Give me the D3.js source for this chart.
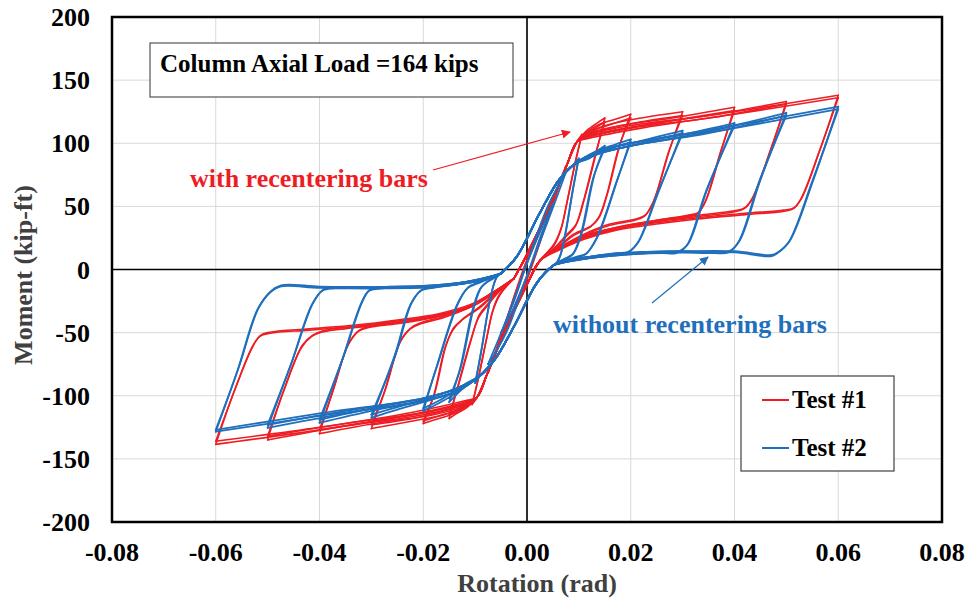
<!doctype html>
<head>
  <meta charset="utf-8">
  <script src="https://cdnjs.cloudflare.com/ajax/libs/d3/7.8.2/d3.min.js"></script>
</head>
<style>
  body { margin: 0; background: #fff; }
  svg text { font-family: "Liberation Serif", "Times New Roman", serif; font-weight: bold; }
</style>
<body>
<div id="chart"></div>
<script>
// ---- datos (rotacion en rad, momento en kip-ft) ----
const xTicks = [-0.08, -0.06, -0.04, -0.02, 0, 0.02, 0.04, 0.06, 0.08];
const yTicks = [-200, -150, -100, -50, 0, 50, 100, 150, 200];
const seriesNames = ["Test #1", "Test #2"];

// rama comun que cruza el origen (Test #1)
const redRise = [[-0.0025, -7], [0, 12], [0.0044, 50], [0.0077, 83], [0.0096, 101]];
const redFall = [[0.0025, 7], [0, -12], [-0.0044, -50], [-0.0077, -83], [-0.0096, -101]];
// rama comun que cruza el origen (Test #2)
const blueRise = [[-0.005, -3], [-0.002, 10], [0.0025, 45], [0.006, 70], [0.009, 83]];
const blueFall = [[0.005, 3], [0.002, -10], [-0.0025, -45], [-0.006, -70], [-0.009, -84]];

// ciclos pequeños: [subida hasta el pico +, bajada hasta el pico -, vuelta]
const test1Small = [
  [[[-0.005, -55], [-0.0025, -22], [0, 5], [0.0025, 30], [0.005, 55]],
   [[0.005, 55], [0.0025, 22], [0, -5], [-0.0025, -30], [-0.005, -55]]],
  [[[-0.0075, -82], [-0.004, -40], [0, 8], [0.004, 46], [0.0075, 82]],
   [[0.0075, 82], [0.004, 40], [0, -8], [-0.004, -46], [-0.0075, -82]]],
];
const test2Small = [
  [[[-0.005, -50], [-0.0025, -25], [0, 5], [0.0025, 30], [0.005, 52]],
   [[0.005, 52], [0.0025, 25], [0, -5], [-0.0025, -30], [-0.005, -50]]],
  [[[-0.0075, -75], [-0.004, -40], [0, 5], [0.004, 50], [0.0075, 77]],
   [[0.0075, 77], [0.004, 38], [0, -5], [-0.004, -50], [-0.0075, -75]]],
];

// ciclos grandes: [carga +, descarga +, carga -, descarga -]
const test1Cycles = [
  [[[0.0106, 107]], [[0.0095, 88], [0.0078, 55], [0.0066, 33], [0.0052, 20]],
   [[-0.0106, -107]], [[-0.0095, -88], [-0.0078, -55], [-0.0066, -33], [-0.0052, -20]]],
  [[[0.0104, 104]], [[0.0093, 85], [0.0077, 53], [0.0065, 31], [0.0052, 19]],
   [[-0.0104, -104]], [[-0.0093, -85], [-0.0077, -53], [-0.0065, -31], [-0.0052, -19]]],
  [[[0.0115, 110], [0.0135, 116], [0.015, 120]], [[0.0135, 95], [0.011, 55], [0.0095, 36], [0.0075, 27], [0.0055, 18]],
   [[-0.0115, -109], [-0.0135, -114], [-0.015, -118]], [[-0.0135, -95], [-0.011, -58], [-0.0093, -38], [-0.0075, -28], [-0.0055, -18]]],
  [[[0.0115, 108], [0.0135, 113], [0.015, 117]], [[0.0133, 93], [0.0108, 53], [0.0093, 34], [0.0075, 26], [0.0055, 17]],
   [[-0.0115, -107], [-0.0135, -112], [-0.015, -115]], [[-0.0133, -93], [-0.0108, -56], [-0.0092, -36], [-0.0075, -27], [-0.0055, -17]]],
  [[[0.0115, 109], [0.014, 115], [0.017, 119], [0.02, 123]], [[0.018, 100], [0.0155, 60], [0.014, 42], [0.0125, 35], [0.009, 28], [0.006, 18]],
   [[-0.0115, -108], [-0.014, -114], [-0.017, -118], [-0.02, -122]], [[-0.018, -100], [-0.0158, -62], [-0.0143, -48], [-0.0125, -40], [-0.009, -30], [-0.006, -19]]],
  [[[0.0115, 107], [0.014, 112], [0.017, 116], [0.02, 120]], [[0.0178, 98], [0.0153, 58], [0.0138, 41], [0.0123, 34], [0.009, 27], [0.006, 17]],
   [[-0.0115, -106], [-0.014, -112], [-0.017, -116], [-0.02, -120]], [[-0.0178, -98], [-0.0156, -60], [-0.0141, -46], [-0.0123, -39], [-0.009, -29], [-0.006, -18]]],
  [[[0.012, 109], [0.016, 115], [0.022, 120], [0.03, 125]], [[0.0275, 95], [0.0245, 55], [0.0228, 43], [0.021, 40], [0.016, 36], [0.011, 28], [0.0065, 18]],
   [[-0.012, -109], [-0.016, -115], [-0.022, -120], [-0.03, -126]], [[-0.0275, -97], [-0.0245, -58], [-0.0225, -47], [-0.0205, -43], [-0.016, -38], [-0.011, -30], [-0.0065, -19]]],
  [[[0.012, 107], [0.016, 112], [0.022, 117], [0.03, 122]], [[0.0273, 93], [0.0243, 53], [0.0226, 42], [0.0208, 39], [0.016, 35], [0.011, 27], [0.0065, 17]],
   [[-0.012, -107], [-0.016, -112], [-0.022, -118], [-0.03, -123]], [[-0.0273, -95], [-0.0243, -56], [-0.0223, -46], [-0.0203, -42], [-0.016, -37], [-0.011, -29], [-0.0065, -18]]],
  [[[0.012, 108], [0.018, 114], [0.028, 120], [0.04, 128.5]], [[0.0375, 95], [0.0345, 55], [0.033, 45], [0.031, 43], [0.025, 39], [0.018, 34], [0.011, 27], [0.0065, 18]],
   [[-0.012, -108], [-0.018, -115], [-0.028, -121], [-0.04, -130]], [[-0.0375, -97], [-0.0345, -60], [-0.0325, -49], [-0.0305, -46], [-0.025, -43], [-0.018, -38], [-0.011, -30], [-0.0065, -19]]],
  [[[0.012, 106], [0.018, 111], [0.028, 118], [0.04, 126]], [[0.0373, 93], [0.0343, 53], [0.0328, 44], [0.0308, 42], [0.025, 38], [0.018, 33], [0.011, 26], [0.0065, 17]],
   [[-0.012, -106], [-0.018, -112], [-0.028, -119], [-0.04, -127]], [[-0.0373, -95], [-0.0343, -58], [-0.0323, -48], [-0.0303, -45], [-0.025, -42], [-0.018, -37], [-0.011, -29], [-0.0065, -18]]],
  [[[0.012, 107], [0.02, 114], [0.035, 122], [0.05, 133]], [[0.047, 95], [0.0435, 57], [0.042, 49], [0.04, 46.5], [0.033, 43], [0.025, 39], [0.017, 33], [0.011, 26], [0.0065, 17]],
   [[-0.012, -107], [-0.02, -115], [-0.035, -124], [-0.05, -135]], [[-0.047, -97], [-0.0435, -62], [-0.0415, -53], [-0.0395, -49.5], [-0.033, -46], [-0.025, -42], [-0.017, -37], [-0.011, -30], [-0.0065, -19]]],
  [[[0.012, 105], [0.02, 112], [0.035, 120], [0.05, 131]], [[0.0468, 93], [0.0433, 55], [0.0418, 48], [0.0398, 45.5], [0.033, 42], [0.025, 38], [0.017, 32], [0.011, 25], [0.0065, 17]],
   [[-0.012, -105], [-0.02, -113], [-0.035, -122], [-0.05, -132]], [[-0.0468, -95], [-0.0433, -60], [-0.0413, -52], [-0.0393, -48.5], [-0.033, -45], [-0.025, -41], [-0.017, -36], [-0.011, -29], [-0.0065, -18]]],
  [[[0.012, 106], [0.022, 114], [0.04, 125], [0.06, 138]], [[0.0565, 95], [0.053, 57], [0.0515, 49], [0.0495, 47], [0.042, 44.5], [0.033, 41], [0.025, 37], [0.017, 32], [0.011, 25], [0.0065, 17]],
   [[-0.012, -106], [-0.022, -115], [-0.04, -127], [-0.06, -138.5]], [[-0.0565, -97], [-0.053, -62], [-0.0515, -53], [-0.0495, -50.5], [-0.042, -48], [-0.033, -45], [-0.025, -41], [-0.017, -36], [-0.011, -29], [-0.0065, -19]]],
  [[[0.012, 104], [0.022, 112], [0.04, 123], [0.06, 136]], [[0.0563, 93], [0.0528, 56], [0.0513, 48], [0.0493, 46], [0.042, 43.5], [0.033, 40], [0.025, 36], [0.017, 31], [0.011, 24], [0.0065, 16]],
   [[-0.012, -104], [-0.022, -113], [-0.04, -125], [-0.06, -136]], [[-0.0563, -95], [-0.0528, -60], [-0.0513, -52], [-0.0493, -49.5], [-0.042, -47], [-0.033, -44], [-0.025, -40], [-0.017, -35], [-0.011, -28], [-0.0065, -18]]],
];

const test2Cycles = [
  [[[0.01, 88]], [[0.0088, 62], [0.0075, 30], [0.0065, 12], [0.0058, 6]],
   [[-0.01, -90]], [[-0.0088, -64], [-0.0075, -32], [-0.0065, -13], [-0.0058, -6]]],
  [[[0.0098, 85]], [[0.0087, 60], [0.0074, 29], [0.0064, 11], [0.0057, 5]],
   [[-0.0098, -87]], [[-0.0087, -62], [-0.0074, -30], [-0.0064, -12], [-0.0057, -5]]],
  [[[0.012, 90], [0.015, 98]], [[0.013, 75], [0.0105, 28], [0.009, 13], [0.0075, 9], [0.006, 6]],
   [[-0.012, -93], [-0.015, -105]], [[-0.013, -80], [-0.0105, -32], [-0.009, -15], [-0.0075, -9.5], [-0.006, -6]]],
  [[[0.012, 88], [0.015, 96]], [[0.0128, 73], [0.0103, 27], [0.0088, 12], [0.0074, 8], [0.006, 5]],
   [[-0.012, -91], [-0.015, -102]], [[-0.0128, -78], [-0.0103, -31], [-0.0088, -14], [-0.0074, -9], [-0.006, -5]]],
  [[[0.013, 93], [0.017, 99], [0.02, 103]], [[0.0175, 72], [0.0135, 25], [0.0115, 13], [0.0095, 10], [0.0065, 6]],
   [[-0.013, -96], [-0.017, -106], [-0.02, -112]], [[-0.0175, -78], [-0.0135, -28], [-0.0115, -15], [-0.0095, -11], [-0.0065, -6]]],
  [[[0.013, 91], [0.017, 97], [0.02, 101]], [[0.0173, 70], [0.0133, 24], [0.0113, 12], [0.0093, 9], [0.0065, 5]],
   [[-0.013, -94], [-0.017, -104], [-0.02, -110]], [[-0.0173, -76], [-0.0133, -27], [-0.0113, -14], [-0.0093, -10], [-0.0065, -5]]],
  [[[0.014, 94], [0.02, 100], [0.025, 105], [0.03, 110]], [[0.0255, 63], [0.0215, 22], [0.0195, 14], [0.017, 13], [0.012, 10], [0.0065, 6]],
   [[-0.014, -97], [-0.02, -105], [-0.025, -111], [-0.03, -117.5]], [[-0.0255, -68], [-0.0225, -28], [-0.0205, -17], [-0.018, -14.5], [-0.012, -11], [-0.0065, -6]]],
  [[[0.014, 92], [0.02, 98], [0.025, 103], [0.03, 108]], [[0.0253, 62], [0.0213, 21], [0.0193, 13], [0.017, 12], [0.012, 9], [0.0065, 5]],
   [[-0.014, -95], [-0.02, -103], [-0.025, -109], [-0.03, -115]], [[-0.0253, -67], [-0.0223, -27], [-0.0203, -16], [-0.018, -13.5], [-0.012, -10], [-0.0065, -5]]],
  [[[0.014, 94], [0.02, 100], [0.03, 107], [0.04, 116]], [[0.0347, 63], [0.031, 20], [0.029, 14], [0.026, 14], [0.018, 12.5], [0.012, 10], [0.0065, 6]],
   [[-0.014, -97], [-0.02, -104], [-0.03, -112], [-0.04, -121.5]], [[-0.0355, -70], [-0.032, -27], [-0.0305, -17], [-0.028, -15], [-0.02, -14], [-0.012, -11], [-0.0065, -6]]],
  [[[0.014, 92], [0.02, 98], [0.03, 105], [0.04, 114]], [[0.0345, 62], [0.0308, 19], [0.0288, 13], [0.026, 13], [0.018, 11.5], [0.012, 9], [0.0065, 5]],
   [[-0.014, -95], [-0.02, -102], [-0.03, -110], [-0.04, -119]], [[-0.0353, -68], [-0.0318, -26], [-0.0303, -16], [-0.028, -14], [-0.02, -13], [-0.012, -10], [-0.0065, -5]]],
  [[[0.014, 94], [0.02, 100], [0.035, 110], [0.05, 124]], [[0.045, 71], [0.041, 23], [0.039, 14.5], [0.036, 14], [0.028, 14.5], [0.018, 12.5], [0.012, 10], [0.0065, 6]],
   [[-0.014, -97], [-0.02, -104], [-0.035, -114], [-0.05, -125.5]], [[-0.0455, -75], [-0.0415, -28], [-0.0395, -17], [-0.037, -15], [-0.028, -15], [-0.018, -14], [-0.012, -11], [-0.0065, -6]]],
  [[[0.014, 92], [0.02, 98], [0.035, 108], [0.05, 122]], [[0.0448, 70], [0.0408, 22], [0.0388, 13.5], [0.036, 13], [0.028, 13.5], [0.018, 11.5], [0.012, 9], [0.0065, 5]],
   [[-0.014, -95], [-0.02, -102], [-0.035, -112], [-0.05, -123]], [[-0.0453, -73], [-0.0413, -27], [-0.0393, -16], [-0.037, -14], [-0.028, -14], [-0.018, -13], [-0.012, -10], [-0.0065, -5]]],
  [[[0.014, 94], [0.02, 100], [0.04, 114], [0.06, 129]], [[0.0552, 71], [0.0507, 23], [0.0485, 14], [0.0472, 11.5], [0.04, 14.5], [0.03, 14.5], [0.02, 13.5], [0.012, 10], [0.0065, 6]],
   [[-0.014, -97], [-0.02, -104], [-0.04, -116], [-0.06, -128.5]], [[-0.0558, -80], [-0.052, -32], [-0.0495, -18], [-0.0476, -13.5], [-0.04, -14.5], [-0.03, -15], [-0.02, -14], [-0.012, -11], [-0.0065, -6]]],
  [[[0.014, 92], [0.02, 98], [0.04, 112], [0.06, 127]], [[0.055, 70], [0.0505, 22], [0.0483, 13], [0.047, 10.5], [0.04, 13.5], [0.03, 13.5], [0.02, 12.5], [0.012, 9], [0.0065, 5]],
   [[-0.014, -95], [-0.02, -102], [-0.04, -114], [-0.06, -127]], [[-0.0556, -78], [-0.0518, -31], [-0.0493, -17], [-0.0474, -12.5], [-0.04, -13.5], [-0.03, -14], [-0.02, -13], [-0.012, -10], [-0.0065, -5]]],
];

// ---- dimensiones ----
const width = 971, height = 606;
const plot = { left: 112, right: 942, top: 17, bottom: 522 };
const red = "#ee1d24", blue = "#1f6fbd";

const x = d3.scaleLinear().domain([-0.08, 0.08]).range([plot.left, plot.right]);
const y = d3.scaleLinear().domain([-200, 200]).range([plot.bottom, plot.top]);

const svg = d3.select("#chart").append("svg")
  .attr("width", width).attr("height", height);

svg.append("defs").append("clipPath").attr("id", "clip")
  .append("rect")
  .attr("x", plot.left).attr("y", plot.top)
  .attr("width", plot.right - plot.left).attr("height", plot.bottom - plot.top);

// Rejilla
const grid = svg.append("g");
grid.selectAll(".vx").data(xTicks).enter().append("line")
  .attr("x1", d => x(d)).attr("x2", d => x(d))
  .attr("y1", plot.top).attr("y2", plot.bottom)
  .attr("stroke", "#d9d9d9").attr("stroke-width", 1);
grid.selectAll(".hy").data(yTicks).enter().append("line")
  .attr("x1", plot.left).attr("x2", plot.right)
  .attr("y1", d => y(d)).attr("y2", d => y(d))
  .attr("stroke", "#d9d9d9").attr("stroke-width", 1);

// Ejes que pasan por cero
svg.append("line").attr("x1", x(0)).attr("x2", x(0)).attr("y1", plot.top).attr("y2", plot.bottom)
  .attr("stroke", "#000").attr("stroke-width", 1.6);
svg.append("line").attr("x1", plot.left).attr("x2", plot.right).attr("y1", y(0)).attr("y2", y(0))
  .attr("stroke", "#000").attr("stroke-width", 1.6);

// Cada lazo se parte en los picos para que las esquinas queden vivas
function buildSegments(cycles, rise, fall) {
  const segs = [];
  cycles.forEach(c => {
    const posPeak = c[0][c[0].length - 1];
    const negPeak = c[2][c[2].length - 1];
    segs.push([...rise, ...c[0]]);
    segs.push([posPeak, ...c[1], ...fall, ...c[2]]);
    segs.push([negPeak, ...c[3], rise[0]]);
  });
  return segs;
}
const test1Segs = [...test1Small.flat(), ...buildSegments(test1Cycles, redRise, redFall)];
const test2Segs = [...test2Small.flat(), ...buildSegments(test2Cycles, blueRise, blueFall)];

const line = d3.line()
  .x(d => x(d[0]))
  .y(d => y(d[1]))
  .curve(d3.curveCatmullRom.alpha(0.5));

const curves = svg.append("g").attr("clip-path", "url(#clip)")
  .attr("fill", "none").attr("stroke-linejoin", "round").attr("stroke-linecap", "round");
curves.selectAll(".t1").data(test1Segs).enter().append("path")
  .attr("d", line).attr("stroke", red).attr("stroke-width", 1.6);
curves.selectAll(".t2").data(test2Segs).enter().append("path")
  .attr("d", line).attr("stroke", blue).attr("stroke-width", 1.8);

// Marco
svg.append("rect")
  .attr("x", plot.left).attr("y", plot.top)
  .attr("width", plot.right - plot.left).attr("height", plot.bottom - plot.top)
  .attr("fill", "none").attr("stroke", "#000").attr("stroke-width", 2.5);

// Etiquetas de los ejes
svg.selectAll(".xl").data(xTicks).enter().append("text")
  .attr("x", d => x(d)).attr("y", 561)
  .attr("text-anchor", "middle").attr("font-size", 26).attr("fill", "#000")
  .text(d => d.toFixed(2));
svg.selectAll(".yl").data(yTicks).enter().append("text")
  .attr("x", 90).attr("y", d => y(d) + 9)
  .attr("text-anchor", "end").attr("font-size", 26).attr("fill", "#000")
  .text(d => String(d));

svg.append("text").attr("x", 537).attr("y", 592)
  .attr("text-anchor", "middle").attr("font-size", 26).attr("fill", "#404040")
  .text("Rotation (rad)");
svg.append("text").attr("transform", "translate(32,275) rotate(-90)")
  .attr("text-anchor", "middle").attr("font-size", 26).attr("fill", "#404040")
  .text("Moment (kip-ft)");

// Cuadro de texto
svg.append("rect").attr("x", 150).attr("y", 43).attr("width", 363).attr("height", 54)
  .attr("fill", "#fff").attr("stroke", "#333").attr("stroke-width", 1);
svg.append("text").attr("x", 160).attr("y", 72).attr("font-size", 25).attr("fill", "#000")
  .text("Column Axial Load =164 kips");

// Anotaciones con flechas
const defs = svg.select("defs");
[["arrRed", red], ["arrBlue", blue]].forEach(([id, c]) => {
  defs.append("marker").attr("id", id)
    .attr("viewBox", "0 0 10 10").attr("refX", 9).attr("refY", 5)
    .attr("markerWidth", 9).attr("markerHeight", 9).attr("markerUnits", "userSpaceOnUse")
    .attr("orient", "auto")
    .append("path").attr("d", "M0,0 L10,5 L0,10 Z").attr("fill", c);
});
svg.append("line").attr("x1", 433).attr("y1", 170).attr("x2", 570).attr("y2", 132)
  .attr("stroke", red).attr("stroke-width", 1.2).attr("marker-end", "url(#arrRed)");
svg.append("line").attr("x1", 652).attr("y1", 303).attr("x2", 708).attr("y2", 257)
  .attr("stroke", blue).attr("stroke-width", 1.2).attr("marker-end", "url(#arrBlue)");

svg.append("text").attr("x", 190).attr("y", 187).attr("font-size", 26).attr("fill", red)
  .text("with recentering bars");
svg.append("text").attr("x", 553).attr("y", 333).attr("font-size", 26).attr("fill", blue)
  .text("without recentering bars");

// Leyenda
const legend = svg.append("g");
legend.append("rect").attr("x", 741).attr("y", 376).attr("width", 153).attr("height", 95)
  .attr("fill", "#fff").attr("stroke", "#404040").attr("stroke-width", 1.2);
const legendColors = [red, blue];
legend.selectAll(".li").data(seriesNames).enter().append("line")
  .attr("x1", 762).attr("x2", 789)
  .attr("y1", (d, i) => 400 + i * 48).attr("y2", (d, i) => 400 + i * 48)
  .attr("stroke", (d, i) => legendColors[i]).attr("stroke-width", 2);
legend.selectAll(".lt").data(seriesNames).enter().append("text")
  .attr("x", 792).attr("y", (d, i) => 408 + i * 48)
  .attr("font-size", 25).attr("fill", "#000")
  .text(d => d);
</script>
</body>
